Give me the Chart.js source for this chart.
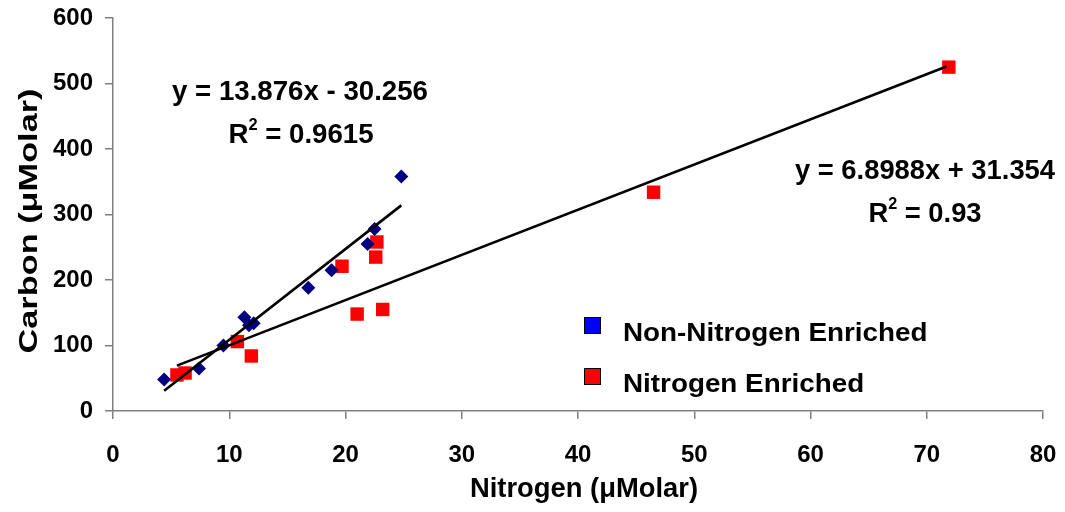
<!DOCTYPE html>
<html>
<head>
<meta charset="utf-8">
<script src="https://cdn.jsdelivr.net/npm/chart.js@4/dist/chart.umd.min.js"></script>
<style>
  html, body { margin: 0; padding: 0; background: #ffffff; }
  #wrap { width: 1065px; height: 512px; }
</style>
</head>
<body>
<div id="wrap"><canvas id="cnChart" width="1065" height="512"></canvas></div>
<script>
// Non-nitrogen enriched samples (navy diamonds)
const nonEnrichedN = [4.4, 7.4, 9.5, 11.3, 11.7, 12.1, 16.8, 18.8, 21.9, 22.5, 24.8];
const nonEnrichedC = [48, 65, 100, 143, 131, 134, 188, 215, 255, 278, 358];

// Nitrogen enriched samples (red squares)
const enrichedN = [5.5, 6.2, 10.7, 11.9, 19.7, 22.7, 22.6, 21.0, 23.2, 46.5, 71.9];
const enrichedC = [55, 58, 106, 84, 221, 258, 235, 148, 155, 334, 525];

// Linear trend lines (end points)
const trendNonX = [4.4, 24.8];
const trendNonY = [30.8, 313.9];
const trendEnrX = [5.5, 71.7];
const trendEnrY = [69.3, 526.0];

const xTicks = [0, 10, 20, 30, 40, 50, 60, 70, 80];
const yTicks = [0, 100, 200, 300, 400, 500, 600];

const legendLabels = ['Non-Nitrogen Enriched', 'Nitrogen Enriched'];
const legendColors = ['#0000ff', '#ff0000'];

const toPoints = (xs, ys) => xs.map((x, i) => ({ x: x, y: ys[i] }));

const FONT = '"Liberation Sans", Arial, sans-serif';

// Draw text centred at (cx, cy), stretched so it is `width` px long
function drawFit(ctx, text, cx, cy, size, width, rotate) {
    ctx.save();
    ctx.font = 'bold ' + size + 'px ' + FONT;
    const natural = ctx.measureText(text).width;
    ctx.translate(cx, cy);
    if (rotate) ctx.rotate(-Math.PI / 2);
    ctx.scale(width / natural, 1);
    ctx.textAlign = 'center';
    ctx.textBaseline = 'middle';
    ctx.fillText(text, 0, 0);
    ctx.restore();
    return width / natural;
}

// Draw a centred "R^2 = value" line with a raised 2
function drawR2(ctx, cx, cy, value, size, sx) {
    ctx.save();
    const big = 'bold ' + size + 'px ' + FONT;
    const small = 'bold ' + Math.round(size * 0.58) + 'px ' + FONT;
    ctx.font = big;
    const wR = ctx.measureText('R').width;
    const wRest = ctx.measureText(' = ' + value).width;
    ctx.font = small;
    const w2 = ctx.measureText('2').width;
    ctx.translate(cx, cy);
    ctx.scale(sx, 1);
    let x = -(wR + w2 + wRest) / 2;
    ctx.textAlign = 'left';
    ctx.textBaseline = 'middle';
    ctx.font = big;
    ctx.fillText('R', x, 0);
    x += wR;
    ctx.font = small;
    ctx.fillText('2', x, -size * 0.4);
    x += w2;
    ctx.font = big;
    ctx.fillText(' = ' + value, x, 0);
    ctx.restore();
}

const annotations = {
    id: 'annotations',
    afterDatasetsDraw(chart) {
        const ctx = chart.ctx;
        ctx.save();
        ctx.fillStyle = '#000000';

        // trend line equations
        const s1 = drawFit(ctx, 'y = 13.876x - 30.256', 300, 93, 27, 256, false);
        drawR2(ctx, 301, 136, '0.9615', 27, s1);
        const s2 = drawFit(ctx, 'y = 6.8988x + 31.354', 925, 172, 27, 260, false);
        drawR2(ctx, 925, 215, '0.93', 27, s2);

        // axis titles
        drawFit(ctx, 'Nitrogen (\u03bcMolar)', 584, 489, 28, 228, false);
        drawFit(ctx, 'Carbon (\u03bcMolar)', 30, 221, 26, 265, true);

        // legend
        legendLabels.forEach((label, i) => {
            const top = 317 + i * 51;
            ctx.fillStyle = legendColors[i];
            ctx.fillRect(584, top, 17, 17);
            ctx.strokeStyle = '#000000';
            ctx.lineWidth = 1;
            ctx.strokeRect(584.5, top + 0.5, 16, 16);
            ctx.fillStyle = '#000000';
            ctx.save();
            ctx.font = 'bold 26px ' + FONT;
            const w = ctx.measureText(label).width;
            ctx.translate(623, top + 17);
            ctx.scale(1.07, 1);
            ctx.textAlign = 'left';
            ctx.textBaseline = 'middle';
            ctx.fillText(label, 0, 0);
            ctx.restore();
        });
        ctx.restore();
    }
};

const axisColor = '#808080';

new Chart(document.getElementById('cnChart'), {
    type: 'scatter',
    data: {
        datasets: [
            {
                label: 'Non-Nitrogen Enriched',
                data: toPoints(nonEnrichedN, nonEnrichedC),
                pointStyle: 'rectRot',
                pointRadius: 7,
                backgroundColor: '#000080',
                borderColor: '#000080',
                borderWidth: 0,
                order: 2
            },
            {
                label: 'Nitrogen Enriched',
                data: toPoints(enrichedN, enrichedC),
                pointStyle: 'rect',
                pointRadius: 9.5,
                backgroundColor: '#ff0000',
                borderColor: '#ff0000',
                borderWidth: 0,
                order: 3
            },
            {
                label: 'trend non',
                type: 'line',
                data: toPoints(trendNonX, trendNonY),
                borderColor: '#000000',
                borderWidth: 2.6,
                pointRadius: 0,
                fill: false,
                order: 1
            },
            {
                label: 'trend enr',
                type: 'line',
                data: toPoints(trendEnrX, trendEnrY),
                borderColor: '#000000',
                borderWidth: 2.6,
                pointRadius: 0,
                fill: false,
                order: 1
            }
        ]
    },
    options: {
        responsive: false,
        animation: false,
        layout: { padding: { top: 18, right: 22, left: 0, bottom: 0 } },
        plugins: {
            legend: { display: false },
            tooltip: { enabled: false }
        },
        scales: {
            x: {
                type: 'linear',
                min: 0,
                max: 80,
                afterBuildTicks: (scale) => { scale.ticks = xTicks.map(v => ({ value: v })); },
                afterFit: (scale) => {
                    scale.height = 101;
                    scale.paddingLeft = 0;
                    scale.paddingRight = 0;
                },
                ticks: {
                    color: '#000000',
                    font: { family: FONT, size: 24, weight: 'bold' },
                    padding: 22,
                    maxRotation: 0
                },
                grid: { display: true, drawOnChartArea: false, drawTicks: true, tickLength: 8, color: axisColor, lineWidth: 1.5 },
                border: { display: true, color: axisColor, width: 1.5 },
                title: { display: false }
            },
            y: {
                type: 'linear',
                min: 0,
                max: 600,
                afterBuildTicks: (scale) => { scale.ticks = yTicks.map(v => ({ value: v })); },
                afterFit: (scale) => {
                    scale.width = 113;
                    scale.paddingTop = 0;
                    scale.paddingBottom = 0;
                },
                ticks: {
                    color: '#000000',
                    font: { family: FONT, size: 24, weight: 'bold' },
                    padding: 12
                },
                grid: { display: true, drawOnChartArea: false, drawTicks: true, tickLength: 8, color: axisColor, lineWidth: 1.5 },
                border: { display: true, color: axisColor, width: 1.5 },
                title: { display: false }
            }
        }
    },
    plugins: [annotations]
});
</script>
</body>
</html>
